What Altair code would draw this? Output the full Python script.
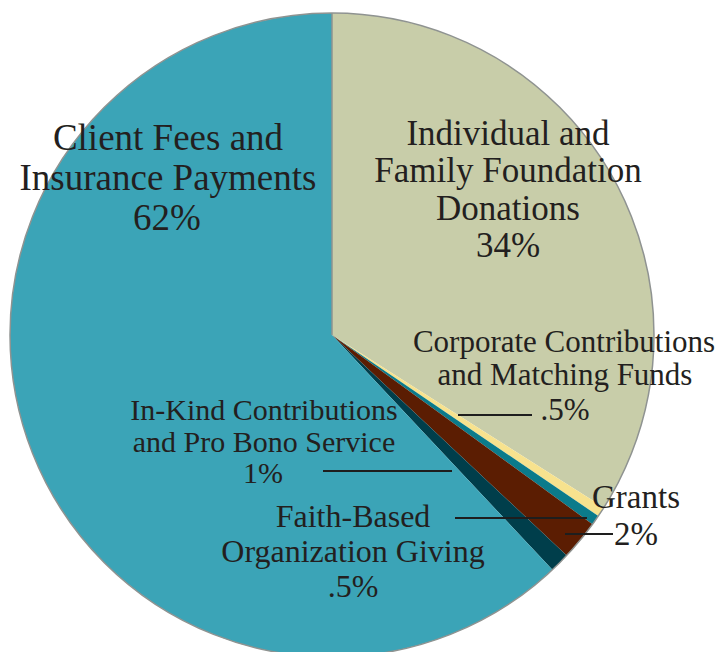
import altair as alt
import pandas as pd
import math

# Slice data (clockwise from 12 o'clock)
categories = ["Individual and Family Foundation Donations",
              "Corporate Contributions and Matching Funds",
              "Faith-Based Organization Giving",
              "Grants",
              "In-Kind Contributions and Pro Bono Service",
              "Client Fees and Insurance Payments"]
values = [34, 0.5, 0.5, 2, 1, 62]
colors = ["#c8cda9", "#f7e28e", "#0b7b8b", "#5b1d02", "#003e4b", "#3ba4b7"]

# Label lines
label_text = ["Client Fees and", "Insurance Payments", "62%",
              "Individual and", "Family Foundation", "Donations", "34%",
              "Corporate Contributions", "and Matching Funds", ".5%",
              "In-Kind Contributions", "and Pro Bono Service", "1%",
              "Faith-Based", "Organization Giving", ".5%",
              "Grants", "2%"]

# annotation layout (page pixels)
label_x = [168, 168, 167, 508, 508, 508, 508, 564, 565, 565, 264, 264, 263, 353, 353, 353, 636, 636]
label_y = [150, 190, 230, 145, 182, 220, 257, 352, 385, 420, 420, 452, 483, 527, 562, 597, 508, 545]
label_size = [37, 37, 37, 35, 35, 35, 35, 31, 31, 31, 30, 30, 30, 32, 32, 32, 33, 33]
lead_x1 = [458, 323, 455, 565]
lead_x2 = [532, 452, 587, 613]
lead_y = [415, 471, 518, 534]

OFF = 8
W, H = 711, 644
CX, CY, R = 332 - OFF, 335 - OFF, 322

pie_df = pd.DataFrame({"category": categories, "value": values,
                       "order": list(range(len(values)))})
lab_df = pd.DataFrame({"text": label_text,
                       "x": [v - OFF for v in label_x],
                       "y": [v - OFF for v in label_y],
                       "size": label_size})
lead_df = pd.DataFrame({"x1": [v - OFF for v in lead_x1],
                        "x2": [v - OFF for v in lead_x2],
                        "y": [v - OFF for v in lead_y]})

pie = alt.Chart(pie_df).mark_arc(radius=R, stroke=None).encode(
    theta=alt.Theta("value:Q", stack=True),
    order=alt.Order("order:Q"),
    color=alt.Color("category:N", scale=alt.Scale(domain=categories, range=colors), legend=None),
    x=alt.value(CX), y=alt.value(CY),
)

ring = alt.Chart(pd.DataFrame({"v": [1]})).mark_arc(
    radius=R, fillOpacity=0, stroke="#8f9391", strokeWidth=1.5
).encode(theta=alt.value(0), theta2=alt.value(2 * math.pi), x=alt.value(CX), y=alt.value(CY))

divider = alt.Chart(pd.DataFrame({"v": [1]})).mark_rule(color="#8f9391", strokeWidth=1.5).encode(
    x=alt.value(CX), y=alt.value(CY - R), y2=alt.value(CY))

leads = alt.Chart(lead_df).mark_rule(color="#1e1e1e", strokeWidth=2.2).encode(
    x=alt.X("x1:Q", scale=None), x2="x2:Q", y=alt.Y("y:Q", scale=None))

labels = alt.Chart(lab_df).mark_text(
    font="Liberation Serif", color="#231f20", align="center", baseline="alphabetic"
).encode(
    x=alt.X("x:Q", scale=None), y=alt.Y("y:Q", scale=None),
    text="text:N", size=alt.Size("size:Q", scale=None, legend=None),
)

chart = alt.layer(pie, ring, divider, leads, labels).properties(
    width=W, height=H, padding=0, autosize=alt.AutoSizeParams(type="none")
).configure_view(stroke=None)

chart.save("out.html", embed_options={"renderer": "svg", "actions": False})
